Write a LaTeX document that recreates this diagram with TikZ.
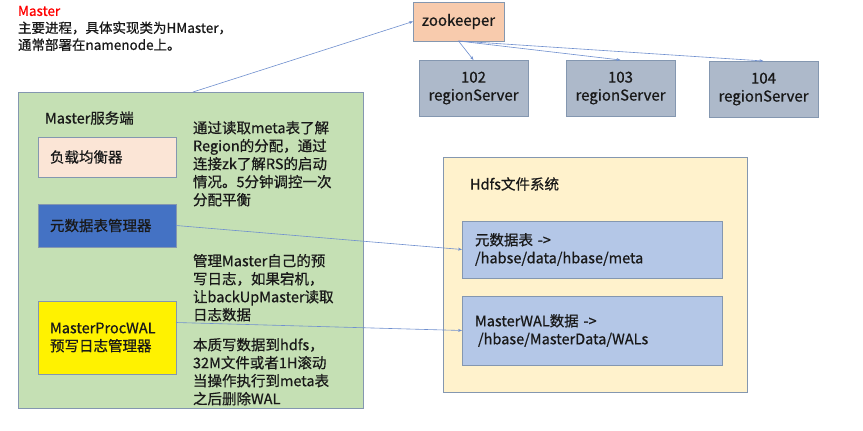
\documentclass[tikz,border=0pt]{standalone}
\usepackage{fontspec}
\setmainfont{Noto Sans CJK SC}[FakeBold=0.7]
\usetikzlibrary{arrows.meta,calc}
\definecolor{greenfill}{HTML}{C5E0B4}
\definecolor{boxborder}{HTML}{8497B0}
\definecolor{zkfill}{HTML}{F8CBAD}
\definecolor{rsfill}{HTML}{ADB9CA}
\definecolor{hdfsfill}{HTML}{FFF2CC}
\definecolor{pinkfill}{HTML}{FBE5D6}
\definecolor{bluefill}{HTML}{4472C4}
\definecolor{metafill}{HTML}{B4C7E7}
\definecolor{linecol}{HTML}{6F8FCF}
\definecolor{titlered}{HTML}{FF0000}
\begin{document}
\begin{tikzpicture}[x=1pt,y=-1pt,
  every node/.style={inner sep=0pt,outer sep=0pt,text=black!90},
  panel/.style={draw=boxborder,line width=0.8pt,anchor=north west},
  rsbox/.style={draw=boxborder,fill=rsfill,line width=0.8pt,anchor=north west,
     minimum width=109pt,minimum height=56pt,align=center,font=\fontsize{15}{18}\selectfont},
  mbox/.style={draw=boxborder,line width=0.8pt,anchor=north west,minimum width=138pt,
     text width=114pt,inner xsep=12pt,align=left,font=\fontsize{14.5}{18}\selectfont},
  hbox/.style={draw=boxborder,fill=metafill,line width=0.8pt,anchor=north west,minimum width=260pt,
     text width=234pt,inner xsep=13pt,align=left,font=\fontsize{14.5}{18}\selectfont},
  note/.style={anchor=north west,align=left,font=\fontsize{14.5}{18}\selectfont},
  conn/.style={draw=linecol,line width=0.6pt,-{Stealth[length=4pt,width=3pt]}}]
\useasboundingbox (0,0) rectangle (863,431);
\fill[white] (0,0) rectangle (863,431);

% title
\node[anchor=north west,align=left,font=\fontsize{13.5}{17}\selectfont] (title) at (18,6)
  {\textcolor{titlered}{Master}\\主要进程，具体实现类为HMaster，\\通常部署在namenode上。};

% master panel
\node[panel,fill=greenfill,minimum width=345pt,minimum height=316pt] (master) at (18,92) {};
\node[anchor=west,font=\fontsize{14.5}{18}\selectfont] (mlabel) at (45,118) {Master服务端};
\node[mbox,fill=pinkfill,minimum height=40pt] (lb) at (38,137) {负载均衡器};
\node[mbox,fill=bluefill,minimum height=43pt] (mm) at (38,204) {元数据表管理器};
\node[mbox,fill=yellow,minimum height=73pt] (walm) at (38,301) {MasterProcWAL\\预写日志管理器};
\node[note] (n1) at (193,121) {通过读取meta表了解\\Region的分配，通过\\连接zk了解RS的启动\\情况。5分钟调控一次\\分配平衡};
\node[note] (n2) at (193,254) {管理Master自己的预\\写日志，如果宕机，\\让backUpMaster读取\\日志数据};
\node[note] (n3) at (193,338) {本质写数据到hdfs，\\32M文件或者1H滚动\\当操作执行到meta表\\之后删除WAL};

% zookeeper and region servers
\node[draw=boxborder,fill=zkfill,line width=0.8pt,anchor=north west,minimum width=91pt,
  minimum height=39pt,font=\fontsize{15}{18}\selectfont] (zk) at (413,2) {zookeeper};
\node[rsbox] (r102) at (419,60) {102\\regionServer};
\node[rsbox] (r103) at (566,60) {103\\regionServer};
\node[rsbox] (r104) at (709,61) {104\\regionServer};

% hdfs panel
\node[panel,fill=hdfsfill,minimum width=304pt,minimum height=235pt] (hdfs) at (443,157) {};
\node[anchor=west,font=\fontsize{14.5}{18}\selectfont] (hlabel) at (470,184) {Hdfs文件系统};
\node[hbox,minimum height=57pt] (meta) at (462,221) {元数据表 ->\\/habse/data/hbase/meta};
\node[hbox,minimum height=69pt] (walbox) at (462,296) {MasterWAL数据 ->\\\hspace{3pt}/hbase/MasterData/WALs};

% connectors
\coordinate (mtop) at (193,92);
\draw[conn] (mtop) -- (zk.west);
\draw[conn] (zk.south) -- (r102.north);
\draw[conn] (zk.south) -- (r103.north);
\draw[conn] (zk.south) -- (r104.north);
\draw[conn] (mm.east) -- (meta.west);
\draw[conn] ($(walm.east)+(0,-15)$) -- (walbox.west);
\end{tikzpicture}
\end{document}
